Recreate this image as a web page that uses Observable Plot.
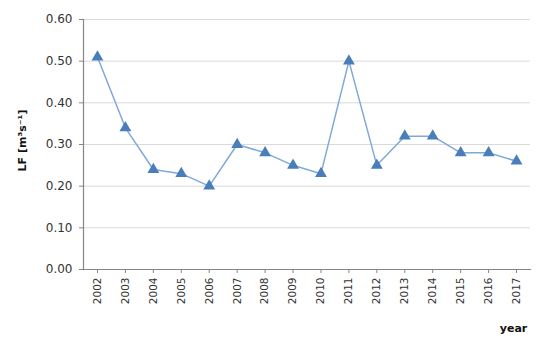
<!DOCTYPE html>
<html>
<head>
<meta charset="utf-8">
<script src="https://cdn.jsdelivr.net/npm/d3@7"></script>
<script src="https://cdn.jsdelivr.net/npm/@observablehq/plot@0.6"></script>
<style>
  html, body { margin: 0; padding: 0; background: #fff; }
  #chart svg { display: block; }
</style>
</head>
<body>
<div id="chart"></div>
<script>
const years = ["2002","2003","2004","2005","2006","2007","2008","2009","2010","2011","2012","2013","2014","2015","2016","2017"];
const lf = [0.51, 0.34, 0.24, 0.23, 0.20, 0.30, 0.28, 0.25, 0.23, 0.50, 0.25, 0.32, 0.32, 0.28, 0.28, 0.26];
const yTicks = [0, 0.1, 0.2, 0.3, 0.4, 0.5, 0.6];

const data = years.map((y, i) => ({year: y, lf: lf[i]}));

const chart = Plot.plot({
  width: 550,
  height: 339,
  marginLeft: 83,
  marginRight: 20,
  marginTop: 19,
  marginBottom: 70,
  style: {fontFamily: "DejaVu Sans, Verdana, sans-serif", background: "#fff"},
  x: {type: "point", domain: years, padding: 0.5, round: false, label: null},
  y: {domain: [0, 0.6], label: null},
  marks: [
    Plot.gridY(yTicks, {stroke: "#d9d9d9", strokeOpacity: 1, strokeWidth: 1}),
    Plot.axisY(yTicks, {tickFormat: d3.format(".2f"), fontSize: 12, fill: "#333", stroke: "#868686", tickSize: 4, tickPadding: 7}),
    Plot.axisX(years, {tickRotate: -90, fontSize: 10.5, fill: "#333", stroke: "#868686", tickSize: 4, tickPadding: 4}),
    Plot.frame({anchor: "left", stroke: "#868686", strokeWidth: 1.2}),
    Plot.frame({anchor: "bottom", stroke: "#868686", strokeWidth: 1.2}),
    Plot.line(data, {x: "year", y: "lf", stroke: "#80a8da", strokeWidth: 1.5}),
    Plot.dot(data, {x: "year", y: "lf", symbol: "triangle", r: 4.4, fill: "#4a7ebb", stroke: "none"}),
    Plot.text(["LF [m³s⁻¹]"], {frameAnchor: "left", textAnchor: "middle", dx: -61, dy: -4, rotate: -90, fontWeight: "bold", fontSize: 11, fill: "#111"}),
    Plot.text(["year"], {frameAnchor: "bottom-right", dx: -17, dy: 62, fontWeight: "bold", fontSize: 11, fill: "#111", textAnchor: "middle"})
  ]
});
document.getElementById("chart").appendChild(chart);
</script>
</body>
</html>
